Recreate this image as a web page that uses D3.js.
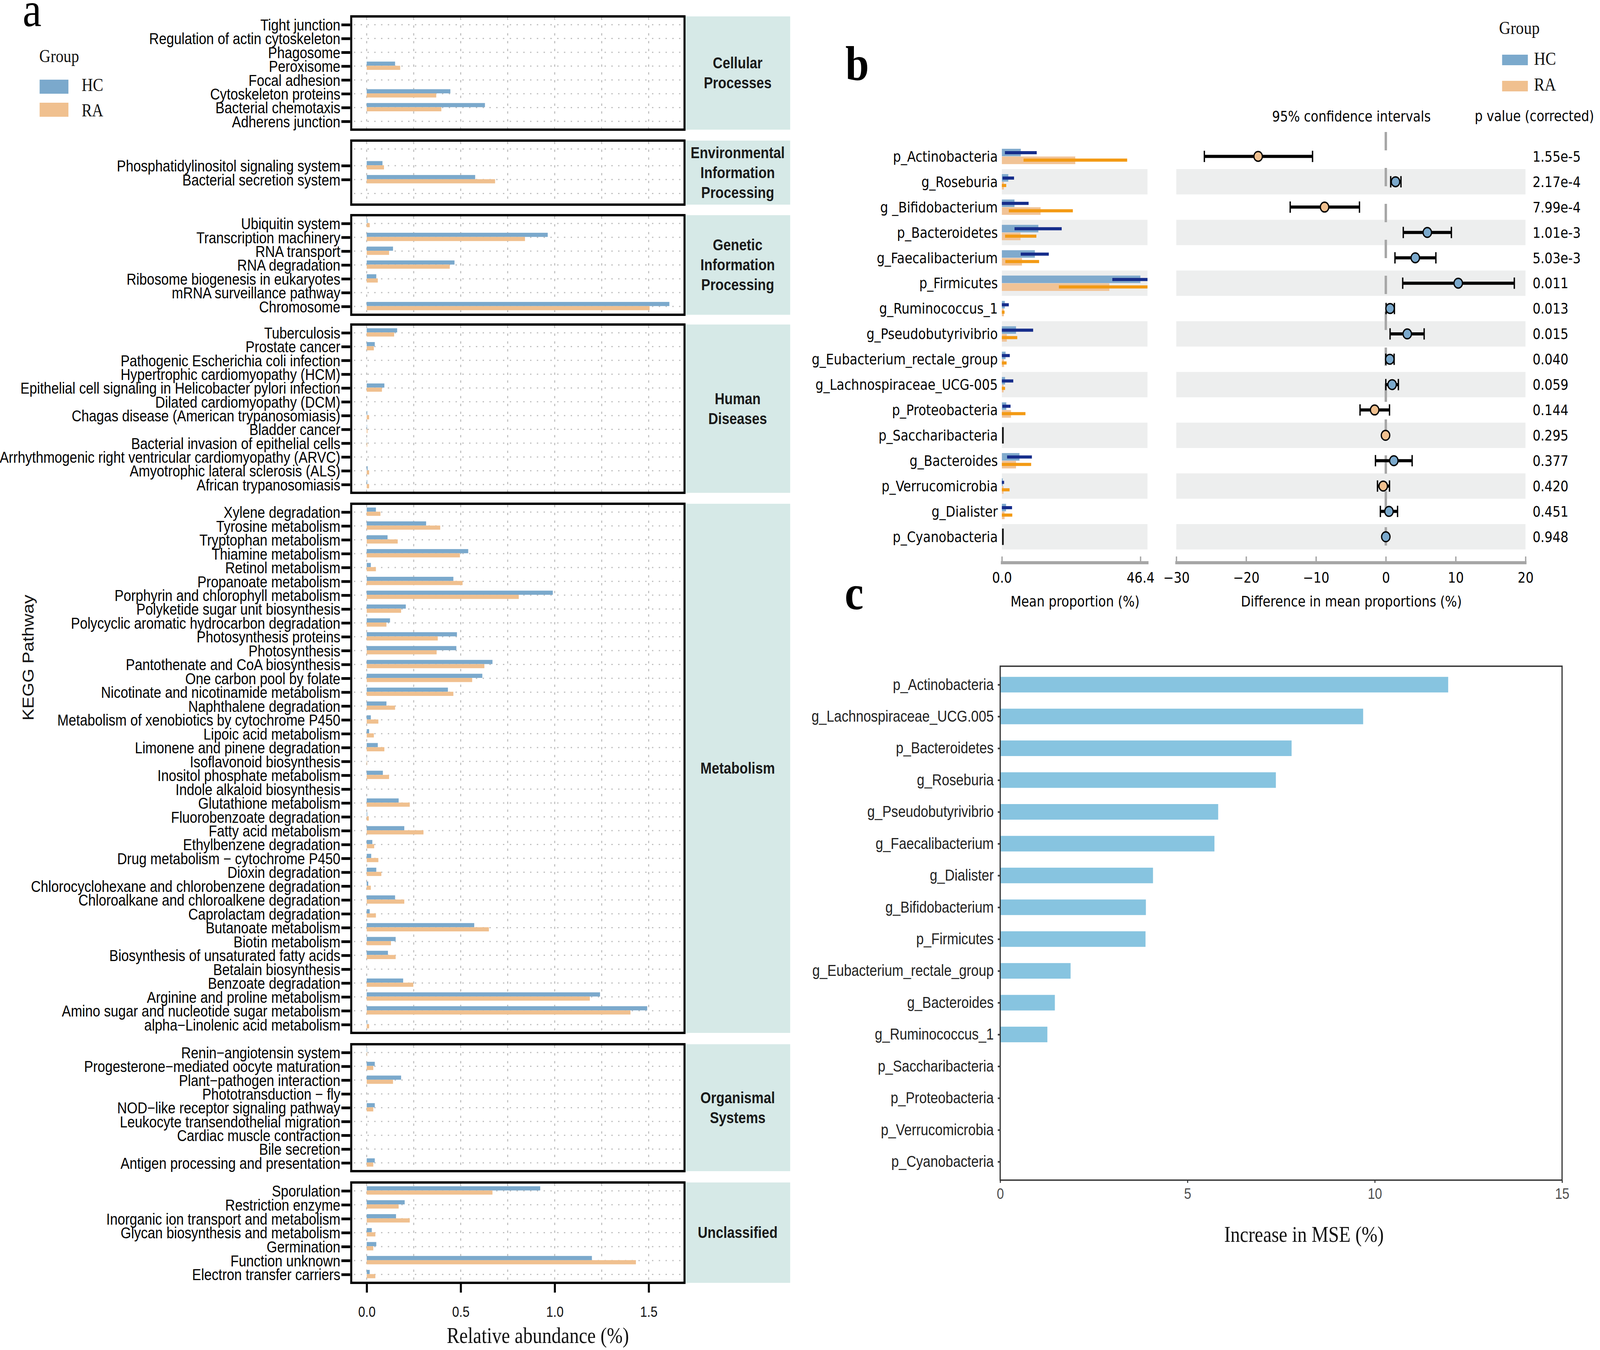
<!DOCTYPE html>
<html><head><meta charset="utf-8">
<script src="https://cdn.jsdelivr.net/npm/d3@7"></script>
<style>html,body{margin:0;padding:0;width:100%;height:100%;overflow:hidden;background:#fff}svg{display:block;background:#fff;width:100vw;height:100vh}</style>
</head><body>
<svg id="chart" viewBox="0 0 4724 3457" preserveAspectRatio="none" xmlns="http://www.w3.org/2000/svg"></svg>
<script>
// ================= DATA =================
// Panel a : KEGG pathways (relative abundance, %)
const cellularPathways = ["Tight junction","Regulation of actin cytoskeleton","Phagosome","Peroxisome","Focal adhesion","Cytoskeleton proteins","Bacterial chemotaxis","Adherens junction"];
const cellularHC = [0,0,0,0.151,0,0.445,0.629,0];
const cellularRA = [0,0,0,0.178,0,0.370,0.397,0];

const envPathways = ["Phosphatidylinositol signaling system","Bacterial secretion system"];
const envHC = [0.084,0.577];
const envRA = [0.092,0.683];

const geneticPathways = ["Ubiquitin system","Transcription machinery","RNA transport","RNA degradation","Ribosome biogenesis in eukaryotes","mRNA surveillance pathway","Chromosome"];
const geneticHC = [0.004,0.963,0.140,0.467,0.051,0,1.610];
const geneticRA = [0.016,0.842,0.119,0.442,0.059,0,1.505];

const humanPathways = ["Tuberculosis","Prostate cancer","Pathogenic Escherichia coli infection","Hypertrophic cardiomyopathy (HCM)","Epithelial cell signaling in Helicobacter pylori infection","Dilated cardiomyopathy (DCM)","Chagas disease (American trypanosomiasis)","Bladder cancer","Bacterial invasion of epithelial cells","Arrhythmogenic right ventricular cardiomyopathy (ARVC)","Amyotrophic lateral sclerosis (ALS)","African trypanosomiasis"];
const humanHC = [0.162,0.043,0,0,0.094,0,0.003,0.002,0.001,0,0.005,0.003];
const humanRA = [0.146,0.038,0,0,0.081,0,0.013,0.004,0.003,0,0.013,0.013];

const metabolismPathways = ["Xylene degradation","Tyrosine metabolism","Tryptophan metabolism","Thiamine metabolism","Retinol metabolism","Propanoate metabolism","Porphyrin and chlorophyll metabolism","Polyketide sugar unit biosynthesis","Polycyclic aromatic hydrocarbon degradation","Photosynthesis proteins","Photosynthesis","Pantothenate and CoA biosynthesis","One carbon pool by folate","Nicotinate and nicotinamide metabolism","Naphthalene degradation","Metabolism of xenobiotics by cytochrome P450","Lipoic acid metabolism","Limonene and pinene degradation","Isoflavonoid biosynthesis","Inositol phosphate metabolism","Indole alkaloid biosynthesis","Glutathione metabolism","Fluorobenzoate degradation","Fatty acid metabolism","Ethylbenzene degradation","Drug metabolism \u2212 cytochrome P450","Dioxin degradation","Chlorocyclohexane and chlorobenzene degradation","Chloroalkane and chloroalkene degradation","Caprolactam degradation","Butanoate metabolism","Biotin metabolism","Biosynthesis of unsaturated fatty acids","Betalain biosynthesis","Benzoate degradation","Arginine and proline metabolism","Amino sugar and nucleotide sugar metabolism","alpha\u2212Linolenic acid metabolism"];
const metabolismHC = [0.049,0.316,0.111,0.540,0.022,0.461,0.990,0.208,0.124,0.480,0.477,0.669,0.615,0.432,0.105,0.022,0.013,0.059,0.001,0.086,0,0.170,0.003,0.200,0.030,0.024,0.051,0.008,0.151,0.016,0.572,0.154,0.113,0,0.194,1.241,1.492,0.003];
const metabolismRA = [0.073,0.391,0.165,0.496,0.049,0.510,0.809,0.183,0.105,0.378,0.372,0.626,0.561,0.461,0.151,0.062,0.038,0.094,0.002,0.119,0,0.229,0.011,0.302,0.040,0.062,0.078,0.022,0.200,0.049,0.650,0.129,0.154,0,0.248,1.187,1.403,0.013];

const organismalPathways = ["Renin\u2212angiotensin system","Progesterone\u2212mediated oocyte maturation","Plant\u2212pathogen interaction","Phototransduction \u2212 fly","NOD\u2212like receptor signaling pathway","Leukocyte transendothelial migration","Cardiac muscle contraction","Bile secretion","Antigen processing and presentation"];
const organismalHC = [0.002,0.043,0.183,0,0.043,0,0,0,0.043];
const organismalRA = [0.002,0.035,0.140,0,0.035,0,0,0,0.035];

const unclassifiedPathways = ["Sporulation","Restriction enzyme","Inorganic ion transport and metabolism","Glycan biosynthesis and metabolism","Germination","Function unknown","Electron transfer carriers"];
const unclassifiedHC = [0.923,0.202,0.156,0.027,0.051,1.198,0.016];
const unclassifiedRA = [0.669,0.170,0.229,0.046,0.035,1.432,0.046];

const facetLabels = ["Cellular\nProcesses","Environmental\nInformation\nProcessing","Genetic\nInformation\nProcessing","Human\nDiseases","Metabolism","Organismal\nSystems","Unclassified"];
const abundanceTicks = [0,0.5,1.0,1.5];
const groups = ["HC","RA"];

// Panel b : STAMP extended error bar plot
const stampTaxa = ["p_Actinobacteria","g_Roseburia","g _Bifidobacterium","p_Bacteroidetes","g_Faecalibacterium","p_Firmicutes","g_Ruminococcus_1","g_Pseudobutyrivibrio","g_Eubacterium_rectale_group","g_Lachnospiraceae_UCG-005","p_Proteobacteria","p_Saccharibacteria","g_Bacteroides","p_Verrucomicrobia","g_Dialister","p_Cyanobacteria"];
const hcMean = [6.35,2.15,4.24,12.22,11.06,46.4,1.0,4.74,1.25,1.08,1.5,0,5.9,0.33,1.41,0];
const hcLow  = [1.02,0.23,0,4.24,6.32,37.0,0,0,0,0,0.17,0,1.75,0,0,0];
const hcHigh = [11.68,4.08,8.96,20.04,15.72,55.8,2.33,10.48,2.66,3.82,2.91,0,10.06,0.75,3.41,0];
const raMean = [24.6,0.68,12.97,6.24,6.74,36.0,0.67,1.66,0.75,0.58,3.08,0,4.74,0.58,0.91,0];
const raLow  = [7.26,0,2.33,1.08,1.16,19.1,0,0,0,0,0,0,0,0,0,0];
const raHigh = [41.97,1.47,23.78,11.56,12.47,52.9,0.9,5.16,1.58,1.08,7.9,0,9.81,2.58,3.49,0];
const diffMean = [-18.28,1.39,-8.77,5.94,4.22,10.37,0.61,3.07,0.57,0.90,-1.60,-0.04,1.15,-0.37,0.45,0.0];
const diffLow  = [-25.98,0.70,-13.69,2.50,1.31,2.42,0.04,0.61,0.0,0.0,-3.69,-0.06,-1.48,-1.19,-0.78,-0.02];
const diffHigh = [-10.49,2.17,-3.77,9.39,7.17,18.40,1.23,5.49,1.19,1.80,0.53,-0.02,3.77,0.53,1.68,0.02];
const pValues = ["1.55e-5","2.17e-4","7.99e-4","1.01e-3","5.03e-3","0.011","0.013","0.015","0.040","0.059","0.144","0.295","0.377","0.420","0.451","0.948"];
const meanTicks = [0,46.4];
const diffTicks = [-30,-20,-10,0,10,20];

// Panel c : random forest importance
const mseTaxa = ["p_Actinobacteria","g_Lachnospiraceae_UCG.005","p_Bacteroidetes","g_Roseburia","g_Pseudobutyrivibrio","g_Faecalibacterium","g_Dialister","g_Bifidobacterium","p_Firmicutes","g_Eubacterium_rectale_group","g_Bacteroides","g_Ruminococcus_1","p_Saccharibacteria","p_Proteobacteria","p_Verrucomicrobia","p_Cyanobacteria"];
const mseValues = [11.96,9.69,7.78,7.36,5.82,5.72,4.08,3.89,3.88,1.88,1.46,1.26,0,0,0,0];
const mseTicks = [0,5,10,15];

// ================= STYLE =================
const HC_COL = "#7BA9CC", RA_COL = "#F0C08F";
const HC_BAR_B = "#80AACD", RA_BAR_B = "#F1C396";
const HC_LINE = "#162D8B", RA_LINE = "#F39A14";
const BAND = "#EDEEEE", AXGREY = "#A6A6A6";
const SANS = "'Liberation Sans', Arial, sans-serif";
const SERIF = "'Liberation Serif', 'Times New Roman', serif";
const DEJA = "'DejaVu Sans', sans-serif";

const svg = d3.select("#chart");
svg.append("rect").attr("width",4724).attr("height",3457).attr("fill","#fff");

// ================= PANEL A =================
const facetData = [
  {items:cellularPathways, hc:cellularHC, ra:cellularRA},
  {items:envPathways, hc:envHC, ra:envRA},
  {items:geneticPathways, hc:geneticHC, ra:geneticRA},
  {items:humanPathways, hc:humanHC, ra:humanRA},
  {items:metabolismPathways, hc:metabolismHC, ra:metabolismRA},
  {items:organismalPathways, hc:organismalHC, ra:organismalRA},
  {items:unclassifiedPathways, hc:unclassifiedHC, ra:unclassifiedRA}
];
const facetBox = [[42,332],[360,524],[551,806],[831,1262],[1290,2645],[2674,2999],[3028,3285]];
const facetPad = [0.6,1.8,0.6,0.6,0.6,0.6,0.6];
const panelL = 1037, panelR = 2021, stripR = 2333;
const xA = d3.scaleLinear().domain([-0.0805,1.6905]).range([1038,2021]);
const gridX = d3.range(0,1.51,0.25);

const gA = svg.append("g");
facetData.forEach((f,i)=>{
  const [top,bot] = facetBox[i];
  const y = d3.scalePoint().domain(f.items).range([top,bot]).padding(facetPad[i]);
  const step = y.step();
  const g = gA.append("g");
  // strip
  g.append("rect").attr("x",panelR).attr("y",top).attr("width",stripR-panelR).attr("height",bot-top).attr("fill","#D6E9E7");
  const lines = facetLabels[i].split("\n");
  const cy = (top+bot)/2;
  g.append("text").attr("x",(panelR+stripR)/2+1).attr("y",cy)
    .attr("text-anchor","middle").attr("font-family",SANS).attr("font-weight","bold")
    .attr("font-size",40).attr("fill","#1A1A1A")
    .selectAll("tspan").data(lines).join("tspan")
    .attr("x",(panelR+stripR)/2+1)
    .attr("y",(d,j)=>cy + (j-(lines.length-1)/2)*51 + 14)
    .text(d=>d);
  // grid
  g.selectAll(".vg").data(gridX).join("line")
    .attr("x1",d=>xA(d)).attr("x2",d=>xA(d)).attr("y1",top+3).attr("y2",bot-3)
    .attr("stroke","#BDBDBD").attr("stroke-width",3).attr("stroke-dasharray","6,14");
  let hpos = f.items.map(d=>y(d));
  if (i===1) { hpos = [hpos[0]-1.2*step, ...hpos, hpos[hpos.length-1]+1.0*step]; }
  g.selectAll(".hg").data(hpos).join("line")
    .attr("x1",panelL+8).attr("x2",panelR-4).attr("y1",d=>d).attr("y2",d=>d)
    .attr("stroke","#BDBDBD").attr("stroke-width",3).attr("stroke-dasharray","4,16");
  // bars
  const bh = 0.3*step;
  g.selectAll(".hc").data(f.items.map((d,k)=>({d,v:f.hc[k]}))).join("rect")
    .attr("x",xA(0)).attr("y",d=>y(d.d)-bh-1).attr("height",bh)
    .attr("width",d=>Math.max(0,xA(d.v)-xA(0))).attr("fill",HC_COL);
  g.selectAll(".ra").data(f.items.map((d,k)=>({d,v:f.ra[k]}))).join("rect")
    .attr("x",xA(0)).attr("y",d=>y(d.d)-1).attr("height",bh)
    .attr("width",d=>Math.max(0,xA(d.v)-xA(0))).attr("fill",RA_COL);
  // border
  g.append("rect").attr("x",panelL).attr("y",top).attr("width",panelR-panelL).attr("height",bot-top)
    .attr("fill","none").attr("stroke","#000").attr("stroke-width",6);
  // y axis
  const ax = g.append("g").attr("transform",`translate(${panelL-3},0)`)
    .call(d3.axisLeft(y).tickSize(26).tickPadding(3));
  ax.select(".domain").remove();
  ax.selectAll(".tick line").attr("stroke","#000").attr("stroke-width",7);
  ax.selectAll(".tick text").attr("font-family",SANS).attr("font-size",40).attr("fill","#000").attr("dy","0.36em");
  if (i===facetData.length-1) {
    const bx = g.append("g").attr("transform",`translate(0,${bot+3})`)
      .call(d3.axisBottom(xA).tickValues(abundanceTicks).tickFormat(d3.format(".1f")).tickSize(22).tickPadding(36));
    bx.select(".domain").remove();
    bx.selectAll(".tick line").attr("stroke","#000").attr("stroke-width",6);
    bx.selectAll(".tick text").attr("font-family",SANS).attr("font-size",37).attr("fill","#111");
  }
});
gA.append("text").attr("x",1588).attr("y",3439).attr("text-anchor","middle")
  .attr("font-family",SERIF).attr("font-size",56).attr("fill","#111").text("Relative abundance (%)");
gA.append("text").attr("transform","translate(99,1684) rotate(-90)").attr("text-anchor","middle")
  .attr("font-family",SANS).attr("font-size",46).attr("fill","#111").text("KEGG Pathway");
// legend a
gA.append("text").attr("x",67).attr("y",67).attr("font-family",SERIF).attr("font-size",125).attr("fill","#000").text("a");
gA.append("text").attr("x",116).attr("y",159).attr("font-family",SERIF).attr("font-size",46).attr("fill","#111").text("Group");
const legA = gA.selectAll(".legA").data(groups).join("g");
legA.append("rect").attr("x",117).attr("y",(d,i)=>204+i*59).attr("width",85).attr("height",36).attr("fill",(d,i)=>i?RA_COL:HC_COL);
legA.append("text").attr("x",241).attr("y",(d,i)=>233+i*65).attr("font-family",SERIF).attr("font-size",46).attr("fill","#111").text(d=>d);

// ================= PANEL B =================
const gB = svg.append("g");
gB.append("text").attr("x",2496).attr("y",205).attr("font-family",SERIF).attr("font-weight","bold").attr("font-size",125).attr("fill","#000").text("b");
const yB = d3.scaleBand().domain(stampTaxa).range([368,1407]);
const bw = yB.bandwidth();
const xBL = d3.scaleLinear().domain([0,46.4]).range([2958,3367]);
const xBR = d3.scaleLinear().domain([-30,20]).range([3473,4504]);
const leftEnd = 3388;
svg.append("defs").append("clipPath").attr("id","clipBL").append("rect").attr("x",2940).attr("y",300).attr("width",leftEnd-2940).attr("height",1200);
// bands
const bandRows = stampTaxa.filter((d,i)=>i%2===1);
gB.selectAll(".bandL").data(bandRows).join("rect").attr("x",2958).attr("width",leftEnd-2958)
  .attr("y",d=>yB(d)).attr("height",bw).attr("fill",BAND);
gB.selectAll(".bandR").data(bandRows).join("rect").attr("x",3473).attr("width",4504-3473)
  .attr("y",d=>yB(d)).attr("height",bw).attr("fill",BAND);
const rowsB = stampTaxa.map((t,i)=>({t,i,c:yB(t)+bw/2}));
const gBL = gB.append("g").attr("clip-path","url(#clipBL)");
gBL.selectAll(".hcb").data(rowsB).join("rect").attr("x",xBL(0)).attr("y",d=>d.c-19.5).attr("height",19.2)
  .attr("width",d=>xBL(hcMean[d.i])-xBL(0)).attr("fill",HC_BAR_B);
gBL.selectAll(".rab").data(rowsB).join("rect").attr("x",xBL(0)).attr("y",d=>d.c+0.3).attr("height",19.5)
  .attr("width",d=>xBL(raMean[d.i])-xBL(0)).attr("fill",RA_BAR_B);
gBL.selectAll(".hcl").data(rowsB.filter(d=>hcHigh[d.i]>0)).join("line")
  .attr("x1",d=>xBL(hcLow[d.i])).attr("x2",d=>xBL(hcHigh[d.i])).attr("y1",d=>d.c-9.5).attr("y2",d=>d.c-9.5)
  .attr("stroke",HC_LINE).attr("stroke-width",8);
gBL.selectAll(".ral").data(rowsB.filter(d=>raHigh[d.i]>0)).join("line")
  .attr("x1",d=>xBL(raLow[d.i])).attr("x2",d=>xBL(raHigh[d.i])).attr("y1",d=>d.c+9.5).attr("y2",d=>d.c+9.5)
  .attr("stroke",RA_LINE).attr("stroke-width",8);
gBL.selectAll(".zero").data(rowsB.filter(d=>hcMean[d.i]===0&&raMean[d.i]===0)).join("line")
  .attr("x1",xBL(0)+3).attr("x2",xBL(0)+3).attr("y1",d=>d.c-21).attr("y2",d=>d.c+21)
  .attr("stroke","#111").attr("stroke-width",5);
// row labels
gB.selectAll(".lab").data(rowsB).join("text").attr("x",2946).attr("y",d=>d.c).attr("dy","0.36em")
  .attr("text-anchor","end").attr("font-family",DEJA).attr("font-size",37).attr("fill","#000").text(d=>d.t);
// zero dashed line
gB.append("line").attr("x1",xBR(0)).attr("x2",xBR(0)).attr("y1",338).attr("y2",1441)
  .attr("stroke",AXGREY).attr("stroke-width",7).attr("stroke-dasharray","47,45");
// CI
const ci = gB.selectAll(".ci").data(rowsB).join("g");
ci.append("line").attr("x1",d=>xBR(diffLow[d.i])).attr("x2",d=>xBR(diffHigh[d.i])).attr("y1",d=>d.c).attr("y2",d=>d.c)
  .attr("stroke","#000").attr("stroke-width",8);
ci.filter(d=>diffHigh[d.i]-diffLow[d.i]>0.2).selectAll(".cap").data(d=>[{x:diffLow[d.i],c:d.c},{x:diffHigh[d.i],c:d.c}]).join("line")
  .attr("x1",d=>xBR(d.x)).attr("x2",d=>xBR(d.x)).attr("y1",d=>d.c-14.5).attr("y2",d=>d.c+14.5)
  .attr("stroke","#000").attr("stroke-width",4);
ci.append("circle").attr("cx",d=>xBR(diffMean[d.i])).attr("cy",d=>d.c).attr("r",12.5)
  .attr("fill",d=>diffMean[d.i]<0?RA_COL:HC_COL).attr("stroke","#000").attr("stroke-width",3.5);
// p values
gB.selectAll(".pv").data(rowsB).join("text").attr("x",4525).attr("y",d=>d.c).attr("dy","0.36em")
  .attr("font-family",DEJA).attr("font-size",37).attr("fill","#000").text(d=>pValues[d.i]);
gB.append("text").attr("x",3990).attr("y",311).attr("text-anchor","middle").attr("font-family",DEJA).attr("font-size",37).attr("fill","#000").text("95% confidence intervals");
gB.append("text").attr("x",4354).attr("y",310).attr("font-family",DEJA).attr("font-size",37).attr("fill","#000").text("p value (corrected)");
// axes
function greyAxis(scale, ticks, fmt, x0, x1){
  const a = gB.append("g").attr("transform","translate(0,1441)")
    .call(d3.axisBottom(scale).tickValues(ticks).tickFormat(fmt).tickSizeInner(-16).tickSizeOuter(0).tickPadding(25));
  a.select(".domain").remove();
  a.selectAll(".tick line").attr("stroke",AXGREY).attr("stroke-width",4);
  a.selectAll(".tick text").attr("font-family",DEJA).attr("font-size",37).attr("fill","#000");
  gB.append("line").attr("x1",x0).attr("x2",x1).attr("y1",1441).attr("y2",1441).attr("stroke",AXGREY).attr("stroke-width",8);
}
greyAxis(xBL, meanTicks, d3.format(".1f"), 2955, 3391);
greyAxis(xBR, diffTicks, d=>d<0?"\u2212"+Math.abs(d):String(d), 3470, 4507);
gB.append("text").attr("x",3174).attr("y",1553).attr("text-anchor","middle").attr("font-family",DEJA).attr("font-size",37).attr("fill","#000").text("Mean proportion (%)");
gB.append("text").attr("x",3990).attr("y",1553).attr("text-anchor","middle").attr("font-family",DEJA).attr("font-size",37).attr("fill","#000").text("Difference in mean proportions (%)");
// legend b
gB.append("text").attr("x",4426).attr("y",87).attr("font-family",SERIF).attr("font-size",47).attr("fill","#111").text("Group");
const legB = gB.selectAll(".legB").data(groups).join("g");
legB.append("rect").attr("x",4435).attr("y",(d,i)=>140+i*67).attr("width",76).attr("height",27).attr("fill",(d,i)=>i?RA_COL:HC_COL);
legB.append("text").attr("x",4529).attr("y",(d,i)=>166+i*66).attr("font-family",SERIF).attr("font-size",47).attr("fill","#111").text(d=>d);

// ================= PANEL C =================
const gC = svg.append("g");
gC.append("text").attr("x",2494).attr("y",1560).attr("font-family",SERIF).attr("font-weight","bold").attr("font-size",125).attr("fill","#000").text("c");
const cL = 2953, cR = 4612, cT = 1706, cB = 3022;
const xC = d3.scaleLinear().domain([0,15]).range([cL,cR]);
const yC = d3.scalePoint().domain(mseTaxa).range([cT,cB]).padding(0.58);
const stepC = yC.step();
gC.selectAll(".mse").data(mseTaxa.map((t,i)=>({t,v:mseValues[i]}))).join("rect")
  .attr("x",xC(0)).attr("y",d=>yC(d.t)-0.245*stepC).attr("height",0.49*stepC)
  .attr("width",d=>xC(d.v)-xC(0)).attr("fill","#87C4E0");
gC.append("rect").attr("x",cL).attr("y",cT).attr("width",cR-cL).attr("height",cB-cT)
  .attr("fill","none").attr("stroke","#333").attr("stroke-width",3.5);
const ayC = gC.append("g").attr("transform",`translate(${cL},0)`).call(d3.axisLeft(yC).tickSize(7).tickPadding(12));
ayC.select(".domain").remove();
ayC.selectAll(".tick line").attr("stroke","#333").attr("stroke-width",4);
ayC.selectAll(".tick text").attr("font-family",SANS).attr("font-size",40).attr("fill","#222");
const axC = gC.append("g").attr("transform",`translate(0,${cB})`).call(d3.axisBottom(xC).tickValues(mseTicks).tickSize(7).tickPadding(14));
axC.select(".domain").remove();
axC.selectAll(".tick line").attr("stroke","#333").attr("stroke-width",3);
axC.selectAll(".tick text").attr("font-family",SANS).attr("font-size",38).attr("fill","#4D4D4D");
gC.append("text").attr("x",3850).attr("y",3180).attr("text-anchor","middle").attr("font-family",SERIF).attr("font-size",56).attr("fill","#111").text("Increase in MSE (%)");
</script>
</body></html>
